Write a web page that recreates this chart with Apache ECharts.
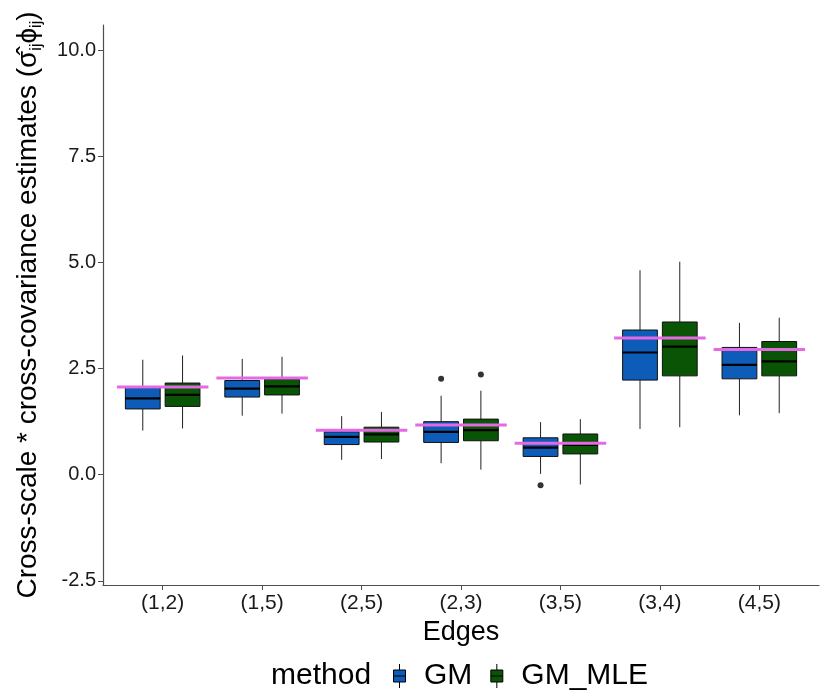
<!DOCTYPE html>
<html>
<head>
<meta charset="utf-8">
<script src="https://cdn.jsdelivr.net/npm/echarts@6.0.0/dist/echarts.min.js"></script>
<style>
    html, body { margin: 0; padding: 0; background: #fff; }
    #chart { width: 825px; height: 700px; }
</style>
</head>
<body>
<div id="chart"></div>
<script>
var edges = ['(1,2)', '(1,5)', '(2,5)', '(2,3)', '(3,5)', '(3,4)', '(4,5)'];
// 每条边的箱线统计: [min, Q1, median, Q3, max]
var gmStats = [
    [1.04, 1.55, 1.80, 2.05, 2.71],
    [1.39, 1.83, 2.03, 2.22, 2.73],
    [0.35, 0.71, 0.89, 1.01, 1.38],
    [0.27, 0.76, 1.01, 1.25, 1.86],
    [0.02, 0.43, 0.64, 0.87, 1.24],
    [1.08, 2.23, 2.88, 3.41, 4.82],
    [1.40, 2.26, 2.59, 3.00, 3.58]
];
var mleStats = [
    [1.09, 1.61, 1.88, 2.16, 2.81],
    [1.44, 1.88, 2.08, 2.25, 2.78],
    [0.37, 0.77, 0.95, 1.12, 1.48],
    [0.12, 0.80, 1.05, 1.31, 1.98],
    [-0.23, 0.49, 0.70, 0.96, 1.31],
    [1.12, 2.33, 3.02, 3.60, 5.02],
    [1.45, 2.33, 2.67, 3.14, 3.70]
];
// 真值(粉色横线)
var trueValues = [2.07, 2.28, 1.05, 1.17, 0.74, 3.22, 2.95];
// 离群点: [边序号, 值]
var gmOutliers = [[3, 2.26], [4, -0.25]];
var mleOutliers = [[3, 2.36]];
var yTicks = [-2.5, 0, 2.5, 5, 7.5, 10];

var FONT = '"Liberation Sans", Arial, sans-serif';
var gmColor = '#0d5db8';
var mleColor = '#0a5405';
var dodge = 0.2;
var boxW = 0.35;

function boxData(stats, shift) {
    var out = [];
    for (var i = 0; i < stats.length; i++) {
        out.push([i + shift].concat(stats[i]));
    }
    return out;
}
function outlierData(list, shift) {
    var out = [];
    for (var i = 0; i < list.length; i++) {
        out.push([list[i][0] + shift, list[i][1]]);
    }
    return out;
}

function renderBox(params, api) {
    var x = api.value(0);
    var lo = api.coord([x, api.value(1)]);
    var q1 = api.coord([x, api.value(2)]);
    var med = api.coord([x, api.value(3)]);
    var q3 = api.coord([x, api.value(4)]);
    var hi = api.coord([x, api.value(5)]);
    var half = api.size([boxW, 0])[0] / 2;
    var col = api.visual('color');
    return {
        type: 'group',
        children: [
            { type: 'line', shape: { x1: hi[0], y1: hi[1], x2: q3[0], y2: q3[1] }, style: { stroke: '#222', lineWidth: 1 } },
            { type: 'line', shape: { x1: lo[0], y1: lo[1], x2: q1[0], y2: q1[1] }, style: { stroke: '#222', lineWidth: 1 } },
            { type: 'rect', shape: { x: q3[0] - half, y: q3[1], width: half * 2, height: q1[1] - q3[1] }, style: { fill: col, stroke: '#111', lineWidth: 1 } },
            { type: 'line', shape: { x1: med[0] - half, y1: med[1], x2: med[0] + half, y2: med[1] }, style: { stroke: '#000', lineWidth: 2.2 } }
        ]
    };
}

function renderTruth(params, api) {
    var i = api.value(0);
    var a = api.coord([i - 0.46, api.value(1)]);
    var b = api.coord([i + 0.46, api.value(1)]);
    return { type: 'line', shape: { x1: a[0], y1: a[1], x2: b[0], y2: b[1] }, style: { stroke: '#e46ae4', lineWidth: 3 } };
}

var truthData = [];
for (var i = 0; i < trueValues.length; i++) {
    truthData.push([i, trueValues[i]]);
}

var myChart = echarts.init(document.getElementById('chart'));
var option = {
    backgroundColor: '#fff',
    animation: false,
    title: {
        text: 'method',
        left: 266,
        top: 656,
        textStyle: { fontFamily: FONT, fontSize: 30, fontWeight: 'normal', color: '#000' }
    },
    legend: {
        left: 388,
        top: 656,
        itemWidth: 13,
        itemHeight: 24,
        itemGap: 18,
        icon: 'path://M6,0L6,6M0,6L12,6L12,18L0,18ZM0,12L12,12M6,18L6,24',
        textStyle: { fontFamily: FONT, fontSize: 30, color: '#000', padding: [0, 0, 0, 13] },
        data: [
            { name: 'GM', itemStyle: { color: gmColor, borderColor: '#000', borderWidth: 1 } },
            { name: 'GM_MLE', itemStyle: { color: mleColor, borderColor: '#000', borderWidth: 1 } }
        ]
    },
    grid: { left: 103, right: 6, top: 25, bottom: 115 },
    xAxis: [{
        type: 'value',
        min: -0.6,
        max: 6.6,
        name: 'Edges',
        nameLocation: 'middle',
        nameGap: 28,
        nameTextStyle: { fontFamily: FONT, fontSize: 27, color: '#000' },
        axisLine: { onZero: false, lineStyle: { color: '#4d4d4d', width: 1.2 } },
        axisTick: { length: 5, customValues: [0, 1, 2, 3, 4, 5, 6], lineStyle: { color: '#4d4d4d' } },
        axisLabel: {
            customValues: [0, 1, 2, 3, 4, 5, 6],
            margin: 8,
            fontFamily: FONT, fontSize: 21, color: '#1a1a1a',
            formatter: function (v) { return edges[Math.round(v)]; }
        },
        splitLine: { show: false }
    }, {
        type: 'value',
        min: -0.6,
        max: 6.6,
        show: false
    }],
    yAxis: {
        type: 'value',
        min: -2.6,
        max: 10.6,
        name: '{a|Cross-scale * cross-covariance estimates (σ\u0302}{s|ij}{a|ϕ}{s|ij}{a|)}',
        nameLocation: 'middle',
        nameRotate: 90,
        nameGap: 58,
        nameTextStyle: {
            rich: {
                a: { fontFamily: FONT, fontSize: 28, color: '#000', lineHeight: 34, verticalAlign: 'middle' },
                s: { fontFamily: FONT, fontSize: 16, color: '#000', lineHeight: 16, verticalAlign: 'bottom' }
            }
        },
        axisLine: { show: true, onZero: false, lineStyle: { color: '#4d4d4d', width: 1.2 } },
        axisTick: { show: true, length: 5, customValues: yTicks, lineStyle: { color: '#4d4d4d' } },
        axisLabel: {
            customValues: yTicks,
            margin: 7,
            fontFamily: FONT, fontSize: 20, color: '#1a1a1a',
            formatter: function (v) { return v.toFixed(1); }
        },
        splitLine: { show: false }
    },
    series: [{
        name: 'GM',
        type: 'custom',
        renderItem: renderBox,
        itemStyle: { color: gmColor },
        encode: { x: 0, y: [1, 2, 3, 4, 5] },
        data: boxData(gmStats, -dodge),
        z: 2
    }, {
        name: 'GM_MLE',
        type: 'custom',
        renderItem: renderBox,
        itemStyle: { color: mleColor },
        encode: { x: 0, y: [1, 2, 3, 4, 5] },
        data: boxData(mleStats, dodge),
        z: 2
    }, {
        name: 'gmOut',
        type: 'scatter',
        symbolSize: 6,
        itemStyle: { color: '#000' },
        data: outlierData(gmOutliers, -dodge),
        z: 3
    }, {
        name: 'mleOut',
        type: 'scatter',
        symbolSize: 6,
        itemStyle: { color: '#000' },
        data: outlierData(mleOutliers, dodge),
        z: 3
    }, {
        name: 'truth',
        type: 'custom',
        renderItem: renderTruth,
        encode: { x: 0, y: 1 },
        data: truthData,
        z: 4
    }]
};
myChart.setOption(option);
</script>
</body>
</html>
